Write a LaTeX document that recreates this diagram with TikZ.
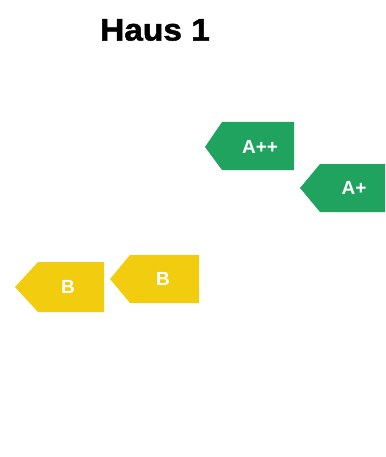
\documentclass[tikz,border=0pt]{standalone}
\usepackage{fontspec}
\setmainfont{Liberation Sans}
\newfontfamily\titlefont[FakeBold=1.6]{Liberation Sans Bold}
\definecolor{tagA}{RGB}{31,163,95}
\definecolor{tagB}{RGB}{242,204,14}
\begin{document}
\begin{tikzpicture}[x=1pt,y=-1pt,
  tagtext/.style={text=white,font=\bfseries\fontsize{19}{19}\selectfont,inner sep=0pt},
  tagshape/.style={draw=none}]
\useasboundingbox[fill=white] (0,0) rectangle (385,457);
\node[font=\titlefont\fontsize{31}{31}\selectfont,xscale=1.08,inner sep=0pt] (title) at (155,30) {Haus 1};
% A++
\fill[tagA] (205,147) -- (222,122) -- (294,122) -- (294,170) -- (222,170) -- cycle;
\node[tagtext] (app) at (260,147) {A++};
% A+
\fill[tagA] (300,188) -- (320,164) -- (385,164) -- (385,212) -- (320,212) -- cycle;
\node[tagtext] (ap) at (354,188) {A+};
% B left
\fill[tagB] (15,287) -- (38,262) -- (104,262) -- (104,312) -- (38,312) -- cycle;
\node[tagtext] (bl) at (68,287) {B};
% B right
\fill[tagB] (110,279) -- (130,255) -- (199,255) -- (199,303) -- (130,303) -- cycle;
\node[tagtext] (br) at (163,279) {B};
\end{tikzpicture}
\end{document}
